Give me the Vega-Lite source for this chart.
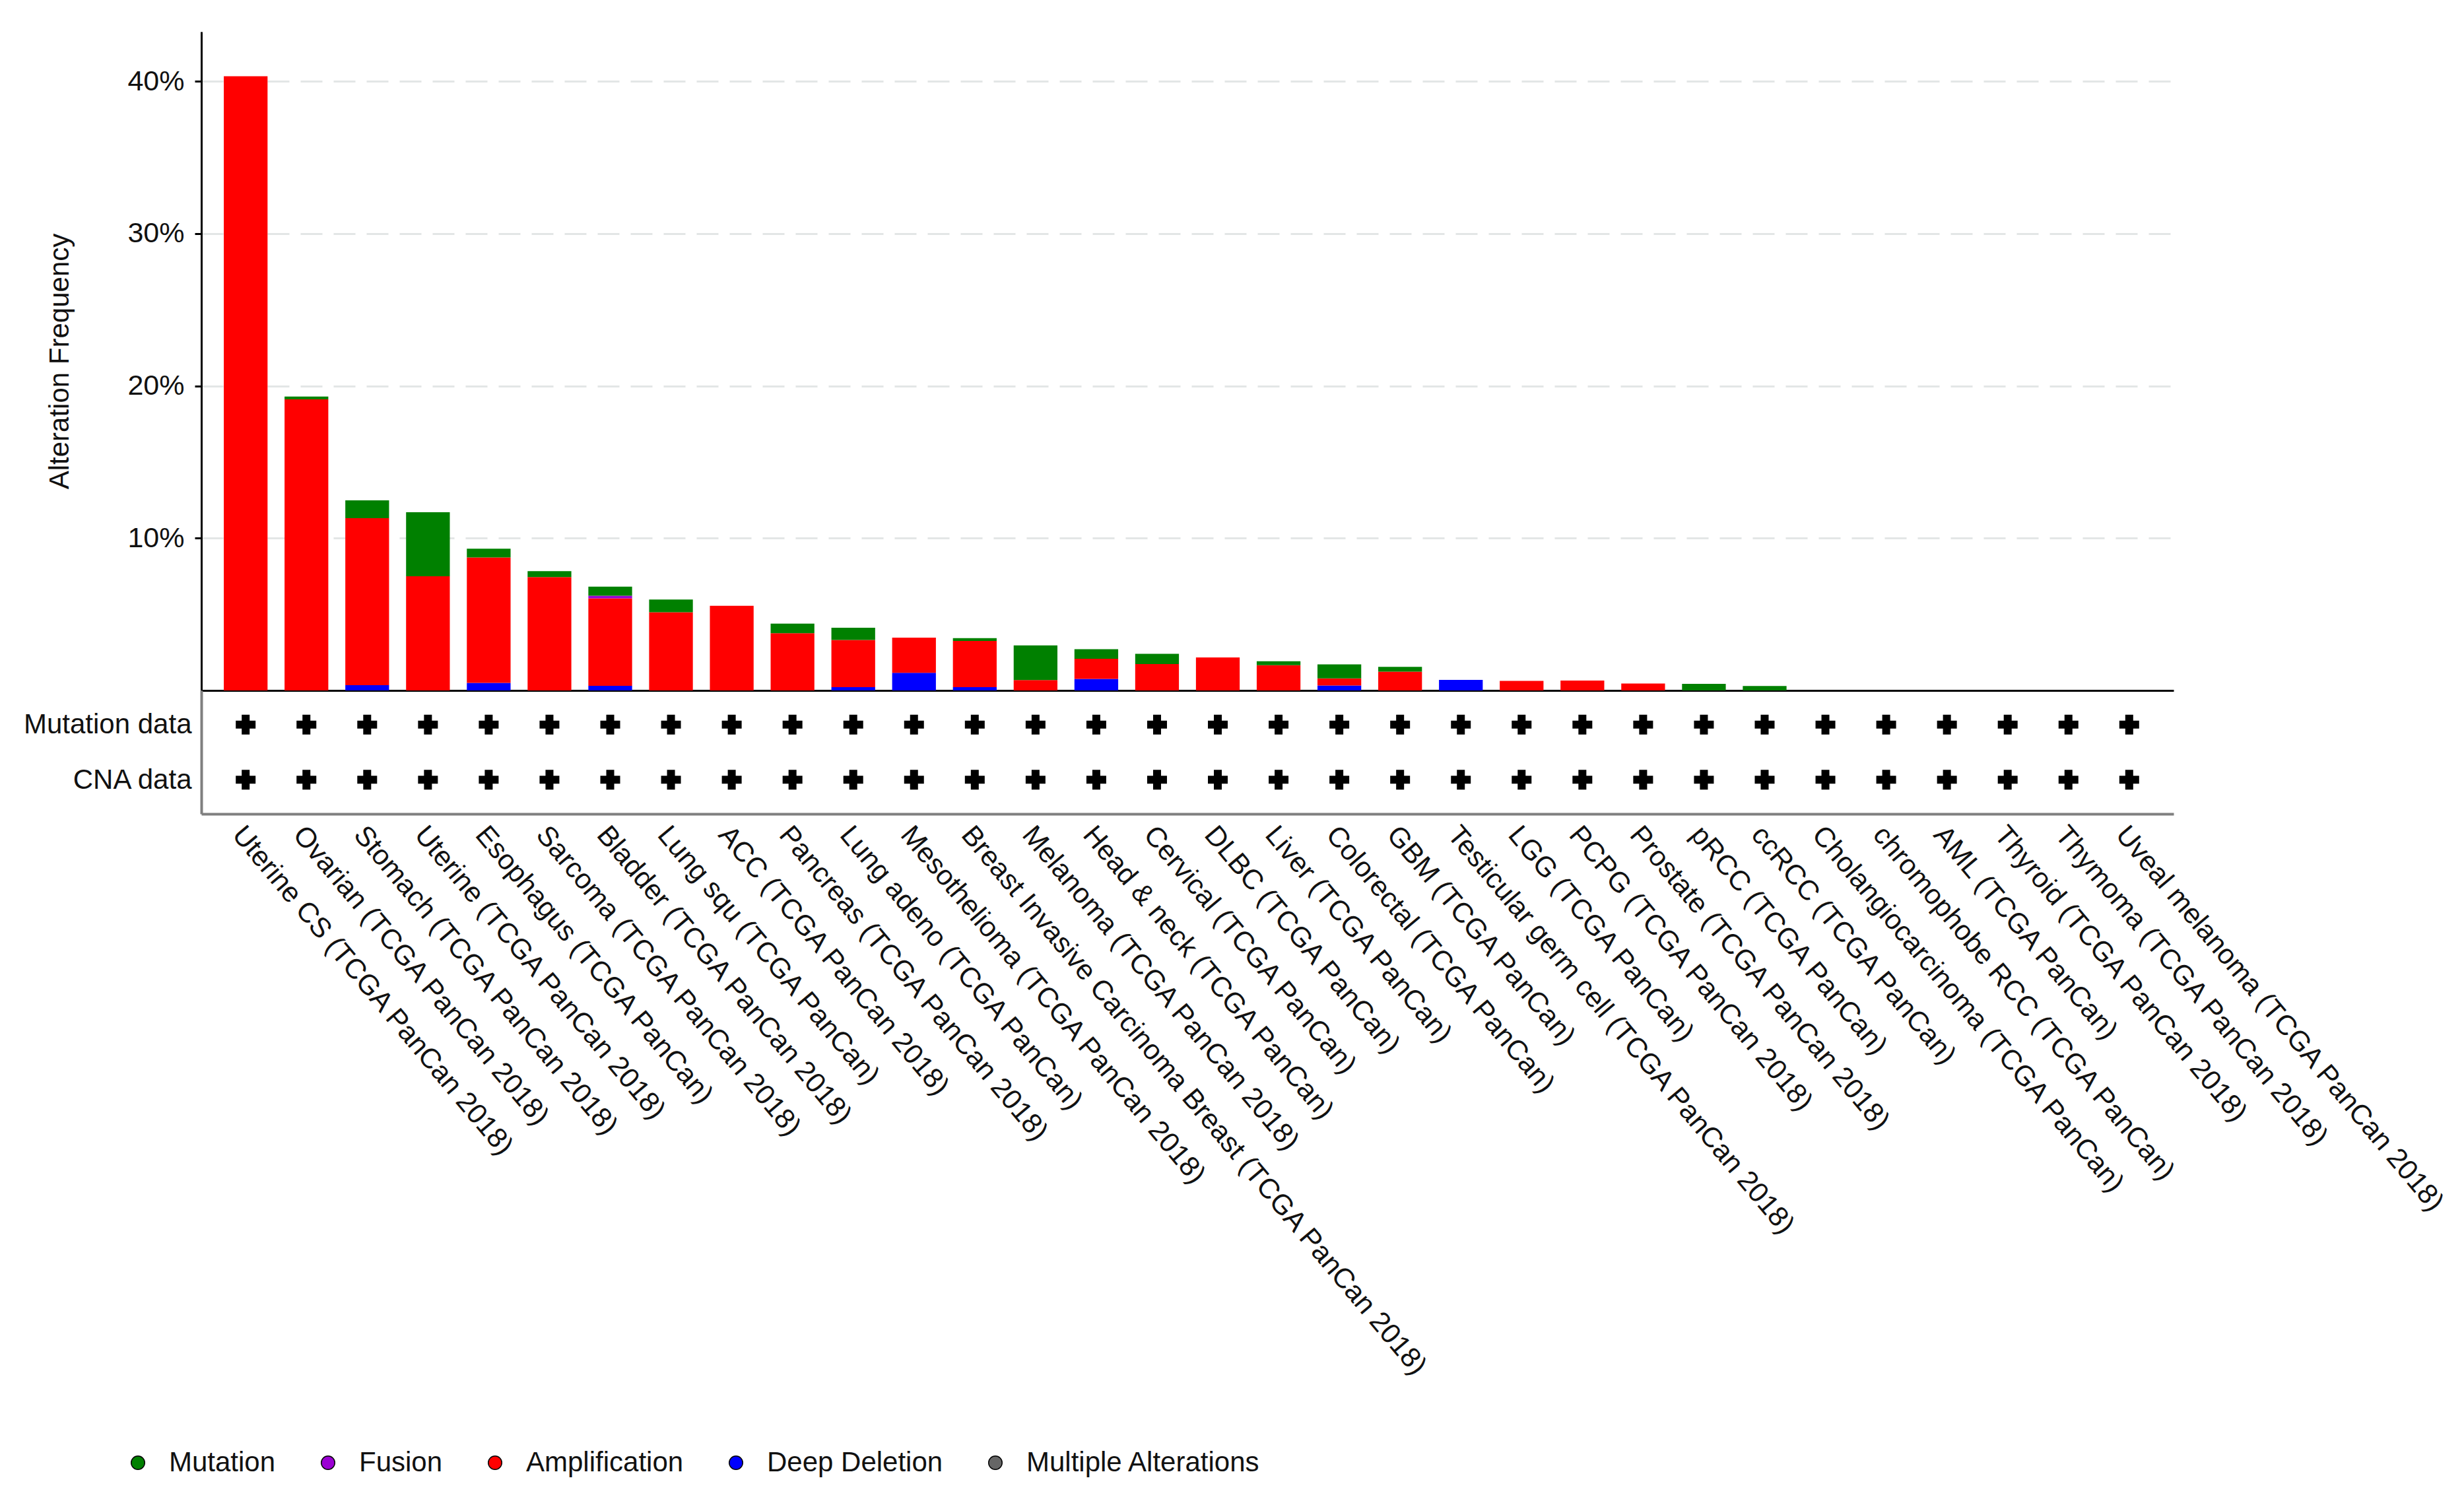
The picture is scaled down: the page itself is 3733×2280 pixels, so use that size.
{
  "$schema": "https://vega.github.io/schema/vega-lite/v6.json",
  "background": "white",
  "padding": {"left": 35, "top": 48, "right": 5, "bottom": 5},
  "bounds": "flush",
  "spacing": 0,
  "config": {
    "font": "Liberation Sans",
    "view": {"stroke": null},
    "axis": {"labelFont": "Liberation Sans", "titleFont": "Liberation Sans"},
    "legend": {"labelFont": "Liberation Sans"}
  },
  "datasets": {
    "typeOrder": [
      {"type": "Multiple Alterations", "rank": 0},
      {"type": "Deep Deletion", "rank": 1},
      {"type": "Amplification", "rank": 2},
      {"type": "Fusion", "rank": 3},
      {"type": "Mutation", "rank": 4}
    ],
    "alts": [
      {"cancer": "Uterine CS (TCGA PanCan 2018)", "type": "Amplification", "freq": 0.4033},
      {"cancer": "Ovarian (TCGA PanCan 2018)", "type": "Amplification", "freq": 0.1912},
      {"cancer": "Ovarian (TCGA PanCan 2018)", "type": "Mutation", "freq": 0.0018},
      {"cancer": "Stomach (TCGA PanCan 2018)", "type": "Deep Deletion", "freq": 0.0035},
      {"cancer": "Stomach (TCGA PanCan 2018)", "type": "Amplification", "freq": 0.1096},
      {"cancer": "Stomach (TCGA PanCan 2018)", "type": "Mutation", "freq": 0.0117},
      {"cancer": "Uterine (TCGA PanCan 2018)", "type": "Amplification", "freq": 0.075},
      {"cancer": "Uterine (TCGA PanCan 2018)", "type": "Mutation", "freq": 0.042},
      {"cancer": "Esophagus (TCGA PanCan)", "type": "Deep Deletion", "freq": 0.005},
      {"cancer": "Esophagus (TCGA PanCan)", "type": "Amplification", "freq": 0.0823},
      {"cancer": "Esophagus (TCGA PanCan)", "type": "Mutation", "freq": 0.0058},
      {"cancer": "Sarcoma (TCGA PanCan 2018)", "type": "Amplification", "freq": 0.0744},
      {"cancer": "Sarcoma (TCGA PanCan 2018)", "type": "Mutation", "freq": 0.0039},
      {"cancer": "Bladder (TCGA PanCan 2018)", "type": "Deep Deletion", "freq": 0.003},
      {"cancer": "Bladder (TCGA PanCan 2018)", "type": "Amplification", "freq": 0.0575},
      {"cancer": "Bladder (TCGA PanCan 2018)", "type": "Fusion", "freq": 0.0017},
      {"cancer": "Bladder (TCGA PanCan 2018)", "type": "Mutation", "freq": 0.006},
      {"cancer": "Lung squ (TCGA PanCan)", "type": "Amplification", "freq": 0.0514},
      {"cancer": "Lung squ (TCGA PanCan)", "type": "Mutation", "freq": 0.0083},
      {"cancer": "ACC (TCGA PanCan 2018)", "type": "Amplification", "freq": 0.0556},
      {"cancer": "Pancreas (TCGA PanCan 2018)", "type": "Amplification", "freq": 0.0376},
      {"cancer": "Pancreas (TCGA PanCan 2018)", "type": "Mutation", "freq": 0.0063},
      {"cancer": "Lung adeno (TCGA PanCan)", "type": "Deep Deletion", "freq": 0.0022},
      {"cancer": "Lung adeno (TCGA PanCan)", "type": "Amplification", "freq": 0.031},
      {"cancer": "Lung adeno (TCGA PanCan)", "type": "Mutation", "freq": 0.008},
      {"cancer": "Mesothelioma (TCGA PanCan 2018)", "type": "Deep Deletion", "freq": 0.0116},
      {"cancer": "Mesothelioma (TCGA PanCan 2018)", "type": "Amplification", "freq": 0.0231},
      {"cancer": "Breast Invasive Carcinoma Breast (TCGA PanCan 2018)", "type": "Deep Deletion", "freq": 0.0022},
      {"cancer": "Breast Invasive Carcinoma Breast (TCGA PanCan 2018)", "type": "Amplification", "freq": 0.0303},
      {"cancer": "Breast Invasive Carcinoma Breast (TCGA PanCan 2018)", "type": "Mutation", "freq": 0.0019},
      {"cancer": "Melanoma (TCGA PanCan 2018)", "type": "Amplification", "freq": 0.0068},
      {"cancer": "Melanoma (TCGA PanCan 2018)", "type": "Mutation", "freq": 0.0228},
      {"cancer": "Head & neck (TCGA PanCan)", "type": "Deep Deletion", "freq": 0.0076},
      {"cancer": "Head & neck (TCGA PanCan)", "type": "Amplification", "freq": 0.0132},
      {"cancer": "Head & neck (TCGA PanCan)", "type": "Mutation", "freq": 0.0063},
      {"cancer": "Cervical (TCGA PanCan)", "type": "Amplification", "freq": 0.0173},
      {"cancer": "Cervical (TCGA PanCan)", "type": "Mutation", "freq": 0.0068},
      {"cancer": "DLBC (TCGA PanCan)", "type": "Amplification", "freq": 0.0217},
      {"cancer": "Liver (TCGA PanCan)", "type": "Amplification", "freq": 0.0166},
      {"cancer": "Liver (TCGA PanCan)", "type": "Mutation", "freq": 0.0026},
      {"cancer": "Colorectal (TCGA PanCan)", "type": "Deep Deletion", "freq": 0.0032},
      {"cancer": "Colorectal (TCGA PanCan)", "type": "Amplification", "freq": 0.0047},
      {"cancer": "Colorectal (TCGA PanCan)", "type": "Mutation", "freq": 0.0092},
      {"cancer": "GBM (TCGA PanCan)", "type": "Amplification", "freq": 0.0123},
      {"cancer": "GBM (TCGA PanCan)", "type": "Mutation", "freq": 0.0032},
      {"cancer": "Testicular germ cell (TCGA PanCan 2018)", "type": "Deep Deletion", "freq": 0.0069},
      {"cancer": "LGG (TCGA PanCan)", "type": "Amplification", "freq": 0.0063},
      {"cancer": "PCPG (TCGA PanCan 2018)", "type": "Amplification", "freq": 0.0065},
      {"cancer": "Prostate (TCGA PanCan 2018)", "type": "Amplification", "freq": 0.0046},
      {"cancer": "pRCC (TCGA PanCan)", "type": "Mutation", "freq": 0.0043},
      {"cancer": "ccRCC (TCGA PanCan)", "type": "Mutation", "freq": 0.0029},
      {"cancer": "Cholangiocarcinoma (TCGA PanCan)", "type": "Mutation", "freq": 0},
      {"cancer": "chromophobe RCC (TCGA PanCan)", "type": "Mutation", "freq": 0},
      {"cancer": "AML (TCGA PanCan)", "type": "Mutation", "freq": 0},
      {"cancer": "Thyroid (TCGA PanCan 2018)", "type": "Mutation", "freq": 0},
      {"cancer": "Thymoma (TCGA PanCan 2018)", "type": "Mutation", "freq": 0},
      {"cancer": "Uveal melanoma (TCGA PanCan 2018)", "type": "Mutation", "freq": 0}
    ],
    "profiles": [
      {"cancer": "Uterine CS (TCGA PanCan 2018)", "profile": "Mutation data"},
      {"cancer": "Ovarian (TCGA PanCan 2018)", "profile": "Mutation data"},
      {"cancer": "Stomach (TCGA PanCan 2018)", "profile": "Mutation data"},
      {"cancer": "Uterine (TCGA PanCan 2018)", "profile": "Mutation data"},
      {"cancer": "Esophagus (TCGA PanCan)", "profile": "Mutation data"},
      {"cancer": "Sarcoma (TCGA PanCan 2018)", "profile": "Mutation data"},
      {"cancer": "Bladder (TCGA PanCan 2018)", "profile": "Mutation data"},
      {"cancer": "Lung squ (TCGA PanCan)", "profile": "Mutation data"},
      {"cancer": "ACC (TCGA PanCan 2018)", "profile": "Mutation data"},
      {"cancer": "Pancreas (TCGA PanCan 2018)", "profile": "Mutation data"},
      {"cancer": "Lung adeno (TCGA PanCan)", "profile": "Mutation data"},
      {"cancer": "Mesothelioma (TCGA PanCan 2018)", "profile": "Mutation data"},
      {"cancer": "Breast Invasive Carcinoma Breast (TCGA PanCan 2018)", "profile": "Mutation data"},
      {"cancer": "Melanoma (TCGA PanCan 2018)", "profile": "Mutation data"},
      {"cancer": "Head & neck (TCGA PanCan)", "profile": "Mutation data"},
      {"cancer": "Cervical (TCGA PanCan)", "profile": "Mutation data"},
      {"cancer": "DLBC (TCGA PanCan)", "profile": "Mutation data"},
      {"cancer": "Liver (TCGA PanCan)", "profile": "Mutation data"},
      {"cancer": "Colorectal (TCGA PanCan)", "profile": "Mutation data"},
      {"cancer": "GBM (TCGA PanCan)", "profile": "Mutation data"},
      {"cancer": "Testicular germ cell (TCGA PanCan 2018)", "profile": "Mutation data"},
      {"cancer": "LGG (TCGA PanCan)", "profile": "Mutation data"},
      {"cancer": "PCPG (TCGA PanCan 2018)", "profile": "Mutation data"},
      {"cancer": "Prostate (TCGA PanCan 2018)", "profile": "Mutation data"},
      {"cancer": "pRCC (TCGA PanCan)", "profile": "Mutation data"},
      {"cancer": "ccRCC (TCGA PanCan)", "profile": "Mutation data"},
      {"cancer": "Cholangiocarcinoma (TCGA PanCan)", "profile": "Mutation data"},
      {"cancer": "chromophobe RCC (TCGA PanCan)", "profile": "Mutation data"},
      {"cancer": "AML (TCGA PanCan)", "profile": "Mutation data"},
      {"cancer": "Thyroid (TCGA PanCan 2018)", "profile": "Mutation data"},
      {"cancer": "Thymoma (TCGA PanCan 2018)", "profile": "Mutation data"},
      {"cancer": "Uveal melanoma (TCGA PanCan 2018)", "profile": "Mutation data"},
      {"cancer": "Uterine CS (TCGA PanCan 2018)", "profile": "CNA data"},
      {"cancer": "Ovarian (TCGA PanCan 2018)", "profile": "CNA data"},
      {"cancer": "Stomach (TCGA PanCan 2018)", "profile": "CNA data"},
      {"cancer": "Uterine (TCGA PanCan 2018)", "profile": "CNA data"},
      {"cancer": "Esophagus (TCGA PanCan)", "profile": "CNA data"},
      {"cancer": "Sarcoma (TCGA PanCan 2018)", "profile": "CNA data"},
      {"cancer": "Bladder (TCGA PanCan 2018)", "profile": "CNA data"},
      {"cancer": "Lung squ (TCGA PanCan)", "profile": "CNA data"},
      {"cancer": "ACC (TCGA PanCan 2018)", "profile": "CNA data"},
      {"cancer": "Pancreas (TCGA PanCan 2018)", "profile": "CNA data"},
      {"cancer": "Lung adeno (TCGA PanCan)", "profile": "CNA data"},
      {"cancer": "Mesothelioma (TCGA PanCan 2018)", "profile": "CNA data"},
      {"cancer": "Breast Invasive Carcinoma Breast (TCGA PanCan 2018)", "profile": "CNA data"},
      {"cancer": "Melanoma (TCGA PanCan 2018)", "profile": "CNA data"},
      {"cancer": "Head & neck (TCGA PanCan)", "profile": "CNA data"},
      {"cancer": "Cervical (TCGA PanCan)", "profile": "CNA data"},
      {"cancer": "DLBC (TCGA PanCan)", "profile": "CNA data"},
      {"cancer": "Liver (TCGA PanCan)", "profile": "CNA data"},
      {"cancer": "Colorectal (TCGA PanCan)", "profile": "CNA data"},
      {"cancer": "GBM (TCGA PanCan)", "profile": "CNA data"},
      {"cancer": "Testicular germ cell (TCGA PanCan 2018)", "profile": "CNA data"},
      {"cancer": "LGG (TCGA PanCan)", "profile": "CNA data"},
      {"cancer": "PCPG (TCGA PanCan 2018)", "profile": "CNA data"},
      {"cancer": "Prostate (TCGA PanCan 2018)", "profile": "CNA data"},
      {"cancer": "pRCC (TCGA PanCan)", "profile": "CNA data"},
      {"cancer": "ccRCC (TCGA PanCan)", "profile": "CNA data"},
      {"cancer": "Cholangiocarcinoma (TCGA PanCan)", "profile": "CNA data"},
      {"cancer": "chromophobe RCC (TCGA PanCan)", "profile": "CNA data"},
      {"cancer": "AML (TCGA PanCan)", "profile": "CNA data"},
      {"cancer": "Thyroid (TCGA PanCan 2018)", "profile": "CNA data"},
      {"cancer": "Thymoma (TCGA PanCan 2018)", "profile": "CNA data"},
      {"cancer": "Uveal melanoma (TCGA PanCan 2018)", "profile": "CNA data"}
    ]
  },
  "vconcat": [
    {
      "width": 2988,
      "height": 998,
      "data": {"name": "alts"},
      "transform": [
        {"lookup": "type", "from": {"data": {"name": "typeOrder"}, "key": "type", "fields": ["rank"]}}
      ],
      "mark": {"type": "bar"},
      "encoding": {
        "x": {
          "field": "cancer",
          "type": "nominal",
          "scale": {
            "type": "band",
            "paddingInner": 0.28,
            "paddingOuter": 0.37,
            "domain": ["Uterine CS (TCGA PanCan 2018)", "Ovarian (TCGA PanCan 2018)", "Stomach (TCGA PanCan 2018)", "Uterine (TCGA PanCan 2018)", "Esophagus (TCGA PanCan)", "Sarcoma (TCGA PanCan 2018)", "Bladder (TCGA PanCan 2018)", "Lung squ (TCGA PanCan)", "ACC (TCGA PanCan 2018)", "Pancreas (TCGA PanCan 2018)", "Lung adeno (TCGA PanCan)", "Mesothelioma (TCGA PanCan 2018)", "Breast Invasive Carcinoma Breast (TCGA PanCan 2018)", "Melanoma (TCGA PanCan 2018)", "Head & neck (TCGA PanCan)", "Cervical (TCGA PanCan)", "DLBC (TCGA PanCan)", "Liver (TCGA PanCan)", "Colorectal (TCGA PanCan)", "GBM (TCGA PanCan)", "Testicular germ cell (TCGA PanCan 2018)", "LGG (TCGA PanCan)", "PCPG (TCGA PanCan 2018)", "Prostate (TCGA PanCan 2018)", "pRCC (TCGA PanCan)", "ccRCC (TCGA PanCan)", "Cholangiocarcinoma (TCGA PanCan)", "chromophobe RCC (TCGA PanCan)", "AML (TCGA PanCan)", "Thyroid (TCGA PanCan 2018)", "Thymoma (TCGA PanCan 2018)", "Uveal melanoma (TCGA PanCan 2018)"]
          },
          "axis": {"title": null, "labels": false, "ticks": false, "domainColor": "black", "domainWidth": 3, "grid": false}
        },
        "y": {
          "field": "freq",
          "type": "quantitative",
          "stack": "zero",
          "scale": {"domain": [0, 0.4326], "nice": false, "zero": true},
          "axis": {
            "values": [0.1, 0.2, 0.3, 0.4],
            "format": ".0%",
            "title": "Alteration Frequency",
            "titleFontSize": 42,
            "titleFontWeight": "normal",
            "titleColor": "#111111",
            "titlePadding": 80,
            "labelFontSize": 43,
            "labelColor": "#111111",
            "labelPadding": 16,
            "tickSize": 10,
            "tickWidth": 3,
            "tickColor": "black",
            "domainColor": "black",
            "domainWidth": 3,
            "grid": true,
            "gridColor": "#e3e6e6",
            "gridDash": [33, 17],
            "gridWidth": 3
          }
        },
        "order": {"field": "rank", "type": "quantitative", "sort": "ascending"},
        "color": {
          "field": "type",
          "type": "nominal",
          "scale": {
            "domain": ["Mutation", "Fusion", "Amplification", "Deep Deletion", "Multiple Alterations"],
            "range": ["#008000", "#9b00d3", "#ff0000", "#0000ff", "#666666"]
          },
          "legend": {
            "orient": "none",
            "legendX": -117,
            "legendY": 2147,
            "direction": "horizontal",
            "columns": 5,
            "title": null,
            "symbolType": "circle",
            "symbolSize": 420,
            "symbolStrokeColor": "black",
            "symbolStrokeWidth": 1.5,
            "symbolOpacity": 1,
            "labelFontSize": 42,
            "labelColor": "#111111",
            "labelOffset": 26,
            "columnPadding": 58,
            "padding": 0,
            "labelLimit": 0
          }
        }
      }
    },
    {
      "width": 2988,
      "height": 187,
      "data": {"name": "profiles"},
      "mark": {"type": "point", "shape": "cross", "filled": true, "size": 900, "color": "black", "opacity": 1},
      "encoding": {
        "x": {
          "field": "cancer",
          "type": "nominal",
          "scale": {
            "type": "band",
            "paddingInner": 0.28,
            "paddingOuter": 0.37,
            "domain": ["Uterine CS (TCGA PanCan 2018)", "Ovarian (TCGA PanCan 2018)", "Stomach (TCGA PanCan 2018)", "Uterine (TCGA PanCan 2018)", "Esophagus (TCGA PanCan)", "Sarcoma (TCGA PanCan 2018)", "Bladder (TCGA PanCan 2018)", "Lung squ (TCGA PanCan)", "ACC (TCGA PanCan 2018)", "Pancreas (TCGA PanCan 2018)", "Lung adeno (TCGA PanCan)", "Mesothelioma (TCGA PanCan 2018)", "Breast Invasive Carcinoma Breast (TCGA PanCan 2018)", "Melanoma (TCGA PanCan 2018)", "Head & neck (TCGA PanCan)", "Cervical (TCGA PanCan)", "DLBC (TCGA PanCan)", "Liver (TCGA PanCan)", "Colorectal (TCGA PanCan)", "GBM (TCGA PanCan)", "Testicular germ cell (TCGA PanCan 2018)", "LGG (TCGA PanCan)", "PCPG (TCGA PanCan 2018)", "Prostate (TCGA PanCan 2018)", "pRCC (TCGA PanCan)", "ccRCC (TCGA PanCan)", "Cholangiocarcinoma (TCGA PanCan)", "chromophobe RCC (TCGA PanCan)", "AML (TCGA PanCan)", "Thyroid (TCGA PanCan 2018)", "Thymoma (TCGA PanCan 2018)", "Uveal melanoma (TCGA PanCan 2018)"]
          },
          "axis": {
            "title": null,
            "labelAngle": 50,
            "labelAlign": "left",
            "labelBaseline": "middle",
            "labelFontSize": 42.5,
            "labelColor": "#111111",
            "labelPadding": 24,
            "labelOffset": -12,
            "labelLimit": 0,
            "labelOverlap": false,
            "labelFlush": false,
            "ticks": false,
            "domainColor": "#7f7f7f",
            "domainWidth": 4,
            "grid": false
          }
        },
        "y": {
          "field": "profile",
          "type": "nominal",
          "scale": {"type": "point", "domain": ["Mutation data", "CNA data"], "padding": 0.62},
          "axis": {
            "title": null,
            "labelFontSize": 42,
            "labelColor": "#111111",
            "labelPadding": 15,
            "labelLimit": 0,
            "ticks": false,
            "domainColor": "#7f7f7f",
            "domainWidth": 4,
            "grid": false
          }
        }
      }
    }
  ]
}
